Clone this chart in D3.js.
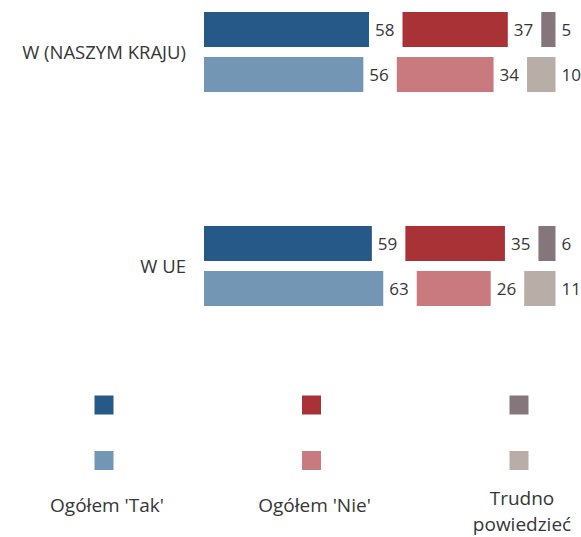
<!DOCTYPE html>
<html>
<head>
<meta charset="utf-8">
<script src="https://cdn.jsdelivr.net/npm/d3@7"></script>
<style>
  html, body { margin: 0; padding: 0; background: #fff; }
  svg { display: block; }
  text { font-family: "Open Sans", "Noto Sans", sans-serif; fill: #363636; }
</style>
</head>
<body>
<svg id="chart" width="581" height="537"></svg>
<script>
// ---- data ----
const categories = ["W (NASZYM KRAJU)", "W UE"];
const rows = ["grupa", "ogolem"];
const answers = ["Tak", "Nie", "Trudno"];
// values[category] = [Tak, Nie, Trudno]
const valuesGrupa = [[58, 37, 5], [59, 35, 6]];
const valuesOgolem = [[56, 34, 10], [63, 26, 11]];
const legendLabels = [["Ogółem 'Tak'"], ["Ogółem 'Nie'"], ["Trudno", "powiedzieć"]];
const colors = {
  grupa: ["#265888", "#a83236", "#85767c"],
  ogolem: ["#7396b4", "#c97a7e", "#b8ada7"]
};

// ---- layout ----
const svg = d3.select("#chart");
const x0 = 204;
const segGap = 33.5;
const x = d3.scaleLinear().domain([0, 100]).range([0, 284.5]);
const y0 = d3.scaleBand().domain(categories).range([12, 306]).paddingInner(0.626).paddingOuter(0);
const y1 = d3.scaleBand().domain(rows).range([0, y0.bandwidth()]).paddingInner(0.222).paddingOuter(0);

const data = [];
categories.forEach((c, ci) => {
  rows.forEach(r => {
    const vals = r === "grupa" ? valuesGrupa[ci] : valuesOgolem[ci];
    let cum = 0;
    vals.forEach((v, ai) => {
      data.push({ cat: c, row: r, ai, v, start: x0 + x(cum) + ai * segGap, w: x(v) });
      cum += v;
    });
  });
});

const g = svg.append("g");
g.selectAll("rect.bar").data(data).join("rect")
  .attr("class", "bar")
  .attr("x", d => d.start)
  .attr("y", d => y0(d.cat) + y1(d.row))
  .attr("width", d => d.w)
  .attr("height", y1.bandwidth())
  .attr("fill", d => colors[d.row][d.ai]);

g.selectAll("text.val").data(data).join("text")
  .attr("class", "val")
  .attr("x", d => d.start + d.w + 6)
  .attr("y", d => y0(d.cat) + y1(d.row) + y1.bandwidth() / 2)
  .attr("dy", "0.36em")
  .attr("font-size", 17)
  .text(d => d.v);

g.selectAll("text.cat").data(categories).join("text")
  .attr("class", "cat")
  .attr("x", 186)
  .attr("y", d => y0(d) + y0.bandwidth() / 2)
  .attr("dy", "0.36em")
  .attr("text-anchor", "end")
  .attr("font-size", 18.5)
  .text(d => d);

// ---- legend ----
const lx = d3.scalePoint().domain(answers).range([104, 519]);
const ly = d3.scalePoint().domain(rows).range([395.5, 451]);
const leg = svg.append("g");
answers.forEach((a, ai) => {
  rows.forEach(r => {
    leg.append("rect")
      .attr("x", lx(a) - 9.5)
      .attr("y", ly(r))
      .attr("width", 19)
      .attr("height", 19)
      .attr("fill", colors[r][ai]);
  });
  const lines = legendLabels[ai];
  const base = lines.length > 1 ? 505 : 512;
  lines.forEach((line, li) => {
    leg.append("text")
      .attr("x", lx(a) + 3)
      .attr("y", base + li * 26)
      .attr("text-anchor", "middle")
      .attr("font-size", 19)
      .text(line);
  });
});
</script>
</body>
</html>
